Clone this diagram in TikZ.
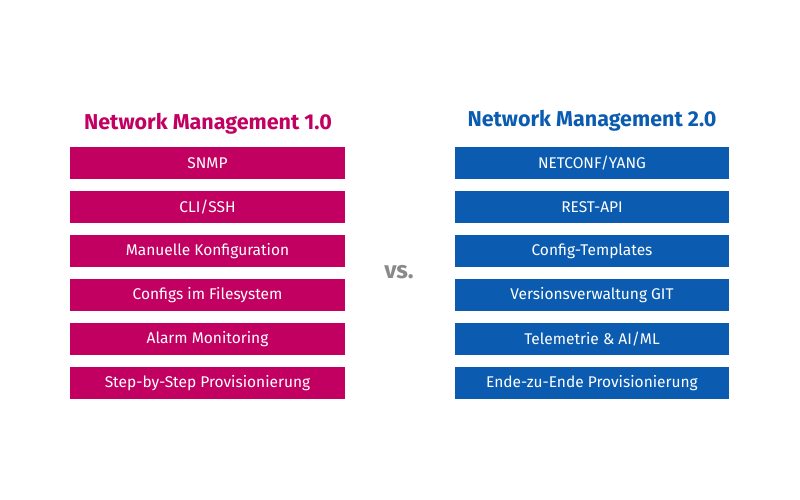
\documentclass[tikz,border=0pt]{standalone}
\usepackage{fontspec}
\setmainfont{Fira Sans}
\usetikzlibrary{positioning}
\definecolor{tmagenta}{HTML}{C20062}
\definecolor{tblue}{HTML}{0B5CB0}
\definecolor{vsgray}{HTML}{8A8A8A}
\begin{document}
\begin{tikzpicture}[x=1pt, y=-1pt, node distance=11.6pt,
                    old node/.style={fill=tmagenta,text=white,minimum width=275pt,minimum height=32pt,inner sep=0pt,font=\fontsize{15.5}{17}\selectfont},
                    new node/.style={old node,fill=tblue,minimum width=274pt},
                    title node/.style={font=\fontsize{21.5}{24}\selectfont\bfseries}]
  \useasboundingbox (0,0) rectangle (800,500);

  \node[title node, text=tmagenta] (t1) at (208,124) {Network Management 1.0};
  \node[old node] (1) at (207.5,163) {SNMP};
  \node[old node] (2) [below=of 1] {CLI/SSH};
  \node[old node] (3) [below=of 2] {Manuelle Konfiguration};
  \node[old node] (4) [below=of 3] {Configs im Filesystem};
  \node[old node] (5) [below=of 4] {Alarm Monitoring};
  \node[old node] (6) [below=of 5] {Step-by-Step Provisionierung};

  \node[title node, text=tblue] (t2) at (592,121) {Network Management 2.0};
  \node[new node] (7) at (592,163) {NETCONF/YANG};
  \node[new node] (8) [below=of 7] {REST-API};
  \node[new node] (9) [below=of 8] {Config-Templates};
  \node[new node] (10) [below=of 9] {Versionsverwaltung GIT};
  \node[new node] (11) [below=of 10] {Telemetrie \& AI/ML};
  \node[new node] (12) [below=of 11] {Ende-zu-Ende Provisionierung};

  \node[text=vsgray, font=\fontsize{24}{26}\selectfont\bfseries] (vs) at (399,272) {vs.};
\end{tikzpicture}
\end{document}
